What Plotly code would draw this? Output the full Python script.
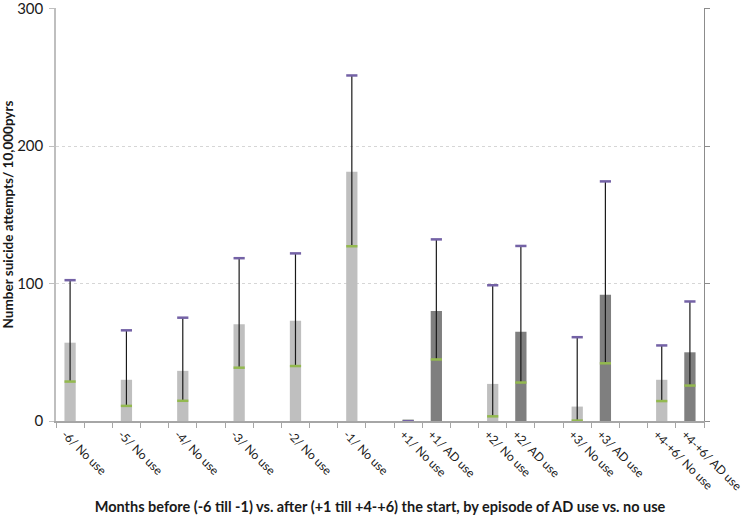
import plotly.graph_objects as go

# Category slots (blank slots are spacers between groups)
categories = ["-6/ No use", " ", "-5/ No use", "  ", "-4/ No use", "   ",
              "-3/ No use", "    ", "-2/ No use", "     ", "-1/ No use", "      ",
              "+1/ No use", "+1/ AD use", "       ",
              "+2/ No use", "+2/ AD use", "        ",
              "+3/ No use", "+3/ AD use", "         ",
              "+4-+6/ No use", "+4-+6/ AD use"]
groups = ["No", None, "No", None, "No", None, "No", None, "No", None, "No", None,
          "No", "AD", None, "No", "AD", None, "No", "AD", None, "No", "AD"]
rates = [57, None, 30, None, 36.5, None, 70.5, None, 73, None, 181.5, None,
         0, 80, None, 27, 65, None, 10.5, 91.8, None, 30, 50]
upper_ci = [102.5, None, 66, None, 75.2, None, 118.5, None, 122, None, 251.5, None,
            0, 132.2, None, 98.8, 127.4, None, 61, 174.4, None, 55, 87]
lower_ci = [28.7, None, 11, None, 14.7, None, 38.8, None, 40, None, 127.2, None,
            0, 44.8, None, 3.4, 28, None, 0.3, 42, None, 14.5, 25.8]
y_ticks = [0, 100, 200, 300]

color_map = {"No": "#bfbfbf", "AD": "#7f7f7f", None: "rgba(0,0,0,0)"}
bar_colors = [color_map[g] for g in groups]
err_plus = [None if r is None else u - r for r, u in zip(rates, upper_ci)]
err_minus = [None if r is None else r - l for r, l in zip(rates, lower_ci)]

FONT = "Lato, 'Liberation Sans', sans-serif"

fig = go.Figure()
fig.add_trace(go.Bar(
    x=categories, y=rates, width=0.4,
    marker=dict(color=bar_colors, line=dict(width=0)),
    error_y=dict(type="data", symmetric=False, array=err_plus, arrayminus=err_minus,
                 color="#1a1a1a", thickness=1.2, width=0),
    showlegend=False, hoverinfo="x+y",
))
fig.add_trace(go.Scatter(
    x=categories, y=lower_ci, mode="markers",
    marker=dict(symbol="line-ew", size=8, line=dict(width=2.5, color="#93b94f")),
    showlegend=False, hoverinfo="skip",
))
fig.add_trace(go.Scatter(
    x=categories, y=upper_ci, mode="markers",
    marker=dict(symbol="line-ew", size=8, line=dict(width=2.5, color="#7462a6")),
    showlegend=False, hoverinfo="skip",
))
fig.add_trace(go.Scatter(x=[categories[0]], y=[0], yaxis="y2", mode="markers",
                         marker=dict(opacity=0), showlegend=False, hoverinfo="skip"))

fig.update_layout(
    width=748, height=518,
    paper_bgcolor="white", plot_bgcolor="white",
    margin=dict(l=56, r=44, t=8, b=97),
    font=dict(family=FONT, size=13, color="#1a1a1a"),
    showlegend=False,
    bargap=0.6,
    xaxis=dict(
        type="category", categoryorder="array", categoryarray=categories,
        range=[-0.5, len(categories) - 0.5],
        tickson="boundaries", ticks="outside", ticklen=5, tickcolor="#a6a6a6",
        showline=True, linecolor="#a6a6a6", linewidth=1.5,
        showgrid=False, zeroline=False, tickangle=45, automargin=False,
        ticklabelshift=-5,
        tickfont=dict(size=12, family=FONT),
        title=dict(text="<b>Months before (-6 till -1) vs. after (+1 till +4-+6) the start, by episode of AD use vs. no use</b>",
                   font=dict(size=14.5, family=FONT), standoff=10),
    ),
    yaxis=dict(
        range=[0, 300.6], tickvals=y_ticks, ticks="outside", ticklen=5, tickcolor="#bfbfbf",
        showline=True, linecolor="#bfbfbf", linewidth=1.5,
        showgrid=True, gridcolor="#d6d6d6", griddash="dot", gridwidth=1,
        zeroline=False, automargin=False, ticklabeloverflow="allow",
        ticklabelstandoff=3,
        tickfont=dict(size=15, family=FONT),
        title=dict(text="<b>Number suicide attempts/ 10,000pyrs</b>",
                   font=dict(size=13.5, family=FONT), standoff=8),
    ),
    yaxis2=dict(
        overlaying="y", side="right", range=[0, 300.6], tickvals=y_ticks,
        ticks="outside", ticklen=5, tickcolor="#8c8c8c", tickwidth=1,
        showline=True, linecolor="#8c8c8c", linewidth=1,
        showticklabels=False, showgrid=False, zeroline=False, automargin=False,
    ),
)

fig.write_html("out.html", config={"displayModeBar": False},
               post_script="document.body.style.margin='0';")
